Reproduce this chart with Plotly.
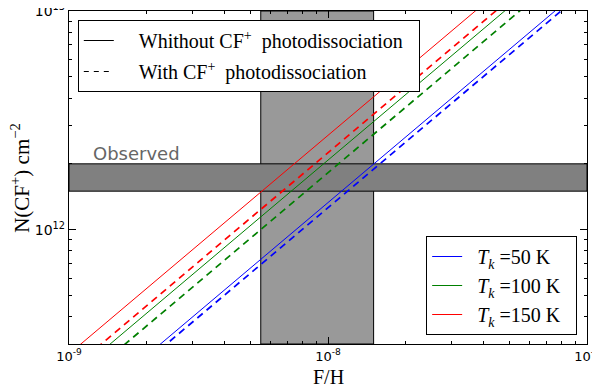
import plotly.graph_objects as go

# F/H abundance grid and model column densities N(CF+) [cm^-2]
fh = [1e-9, 1e-8, 1e-7]
n50_without = [1.33e11, 1.33e12, 1.33e13]
n50_with = [1.26e11, 1.26e12, 1.26e13]
n100_without = [2.08e11, 2.08e12, 2.08e13]
n100_with = [1.82e11, 1.82e12, 1.82e13]
n150_without = [2.7e11, 2.7e12, 2.7e13]
n150_with = [2.25e11, 2.25e12, 2.25e13]

# observed ranges
obs_n = [1.5e12, 2.0e12]
obs_fh = [5.5e-9, 1.5e-8]

x_ticks = [1e-9, 1e-8, 1e-7]
x_ticktext = ["10<sup>-9</sup>", "10<sup>-8</sup>", "10<sup>-7</sup>"]
y_ticks = [1e12, 1e13]
y_ticktext = ["10<sup>12</sup>", "10<sup>13</sup>"]

serif = "Liberation Serif"
sans = "DejaVu Sans"
sp = "&nbsp;"

fig = go.Figure()

models = [
    ("<i>T</i><sub><i>k</i></sub> =50 K", "#0000ff", n50_without, n50_with),
    ("<i>T</i><sub><i>k</i></sub> =100 K", "#008000", n100_without, n100_with),
    ("<i>T</i><sub><i>k</i></sub> =150 K", "#ff0000", n150_without, n150_with),
]
for i, (name, col, nwo, nw) in enumerate(models):
    fig.add_trace(go.Scatter(x=fh, y=nwo, mode="lines", name=sp * 2 + name + sp * 2,
                             line=dict(color=col, width=1),
                             legend="legend2", legendgroup="t%d" % i))
    fig.add_trace(go.Scatter(x=fh, y=nw, mode="lines", showlegend=False,
                             line=dict(color=col, width=1.7, dash="7px,5px")))

# black legend entries
fig.add_trace(go.Scatter(x=[None], y=[None], mode="lines",
                         name=sp * 4 + "Whithout CF<sup>+</sup>  photodissociation" + sp * 2,
                         line=dict(color="black", width=1.2), legendgroup="a"))
fig.add_trace(go.Scatter(x=[None], y=[None], mode="lines",
                         name=sp * 4 + "With CF<sup>+</sup>  photodissociation",
                         line=dict(color="black", width=1.2, dash="5px,5px"), legendgroup="b"))

fig.add_shape(type="rect", xref="x", yref="paper", x0=obs_fh[0], x1=obs_fh[1], y0=0, y1=1,
              fillcolor="#999999", line=dict(color="black", width=1), layer="below")
fig.add_shape(type="rect", xref="paper", yref="y", x0=0, x1=1, y0=obs_n[0], y1=obs_n[1],
              fillcolor="#808080", line=dict(color="black", width=1), layer="below")

fig.add_annotation(x=-8.915, y=12.349, xref="x", yref="y", text="Observed",
                   showarrow=False, xanchor="left", yanchor="middle",
                   font=dict(family=sans, size=18, color="#666666"))

# axis titles as annotations for exact placement
fig.add_annotation(x=0.5, y=-0.099, xref="paper", yref="paper", text="F/H",
                   showarrow=False, xanchor="center", yanchor="middle",
                   font=dict(family=serif, size=20, color="black"))
fig.add_annotation(x=-0.094, y=0.5, xref="paper", yref="paper",
                   text="N(CF<sup>+</sup>) cm<sup>−2</sup>", textangle=-90,
                   showarrow=False, xanchor="center", yanchor="middle",
                   font=dict(family=serif, size=21, color="black"))

axis_common = dict(
    type="log", showgrid=False, zeroline=False, showline=True, linecolor="black",
    linewidth=1.3, mirror="allticks", ticks="inside", ticklen=7, tickcolor="black",
    automargin=False, ticklabeloverflow="allow",
)
fig.update_xaxes(
    range=[-9, -7], tickvals=x_ticks, ticktext=x_ticktext,
    tickfont=dict(family=sans, size=13, color="black"),
    minor=dict(ticks="inside", ticklen=3, tickcolor="black",
               tickvals=[k * 1e-9 for k in range(2, 10)] + [k * 1e-8 for k in range(2, 10)]),
    **axis_common)
fig.update_yaxes(
    range=[11.4771, 13], tickvals=y_ticks, ticktext=y_ticktext,
    tickfont=dict(family=sans, size=14, color="black"),
    minor=dict(ticks="inside", ticklen=3, tickcolor="black",
               tickvals=[k * 1e11 for k in range(4, 10)] + [k * 1e12 for k in range(2, 10)]),
    **axis_common)

# the page body adds an 8px margin, so the figure is sized to sit inside it
fig.update_layout(
    width=592, height=381,
    margin=dict(l=61, r=13, t=3, b=45),
    plot_bgcolor="white", paper_bgcolor="white",
    legend=dict(x=0.017, y=0.973, xanchor="left", yanchor="top",
                bgcolor="white", bordercolor="black", borderwidth=1,
                font=dict(family=serif, size=20, color="black"),
                tracegroupgap=2, traceorder="grouped"),
    legend2=dict(x=0.981, y=0.027, xanchor="right", yanchor="bottom",
                 bgcolor="white", bordercolor="black", borderwidth=1,
                 font=dict(family=serif, size=20, color="black"),
                 tracegroupgap=0, traceorder="grouped"),
)

fig.write_html("out.html")
